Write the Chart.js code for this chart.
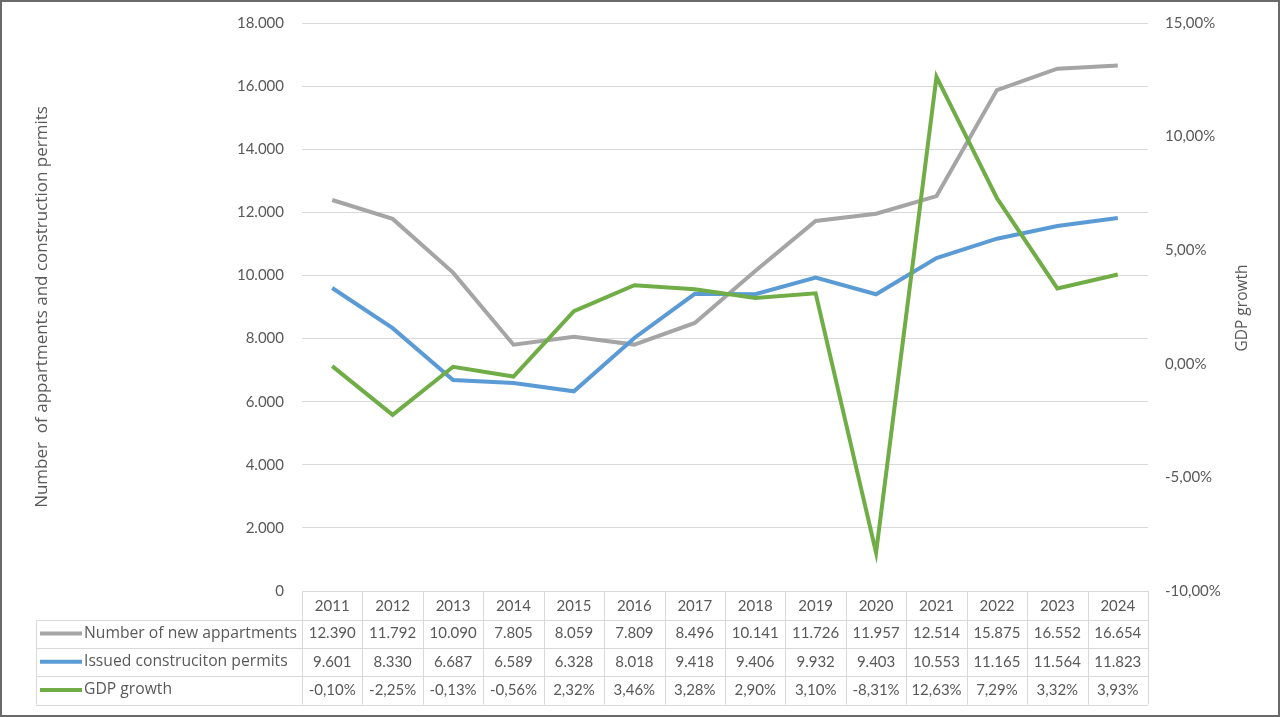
<!DOCTYPE html>
<html>
<head>
<meta charset="utf-8">
<script src="https://cdn.jsdelivr.net/npm/chart.js@4.4.1/dist/chart.umd.min.js"></script>
<style>
  html, body { margin: 0; padding: 0; background: #fff; }
  #wrap { width: 1280px; height: 717px; position: relative; }
  canvas { display: block; }
</style>
</head>
<body>
<div id="wrap"><canvas id="c" width="1280" height="717"></canvas></div>
<script>
const years = ['2011','2012','2013','2014','2015','2016','2017','2018','2019','2020','2021','2022','2023','2024'];
const newApartments = [12390, 11792, 10090, 7805, 8059, 7809, 8496, 10141, 11726, 11957, 12514, 15875, 16552, 16654];
const constructionPermits = [9601, 8330, 6687, 6589, 6328, 8018, 9418, 9406, 9932, 9403, 10553, 11165, 11564, 11823];
const gdpGrowth = [-0.10, -2.25, -0.13, -0.56, 2.32, 3.46, 3.28, 2.90, 3.10, -8.31, 12.63, 7.29, 3.32, 3.93];
const seriesNames = ['Number of new appartments', 'Issued construciton permits', 'GDP growth'];
const leftAxisTitle = 'Number  of appartments and construction permits';
const rightAxisTitle = 'GDP growth';

const FONT = 'Lato, "Open Sans", sans-serif';
const TFONT = '"Open Sans", Lato, sans-serif';
const TXT = '#595959';
const GRID = '#d9d9d9';
const colors = ['#a5a5a5', '#5b9bd5', '#70ad47'];

function fmtThousands(v) {
  const s = Math.round(v).toString();
  return s.replace(/\B(?=(\d{3})+(?!\d))/g, '.');
}
function fmtPct(v) {
  return v.toFixed(2).replace('.', ',') + '%';
}

const tablePlugin = {
  id: 'dataTable',
  beforeDraw(chart) {
    const ctx = chart.ctx;
    ctx.save();
    ctx.fillStyle = '#ffffff';
    ctx.fillRect(0, 0, chart.width, chart.height);
    ctx.restore();
  },
  afterDraw(chart) {
    const ctx = chart.ctx;
    const x = chart.scales.x;
    const area = chart.chartArea;
    const n = years.length;
    const colW = (area.right - area.left) / n;
    const top = area.bottom;
    const rowH = 28.2;
    const headerH = 29;
    const tableLeft = 36;
    const rowsTop = top + headerH;
    const tableBottom = rowsTop + rowH * 3;

    ctx.save();
    ctx.strokeStyle = GRID;
    ctx.lineWidth = 1;
    ctx.beginPath();
    ctx.moveTo(area.left, top + 0.5); ctx.lineTo(area.right, top + 0.5);
    for (let r = 0; r <= 3; r++) {
      const y = Math.round(rowsTop + r * rowH) + 0.5;
      ctx.moveTo(tableLeft, y); ctx.lineTo(area.right, y);
    }
    ctx.moveTo(tableLeft + 0.5, rowsTop); ctx.lineTo(tableLeft + 0.5, tableBottom);
    for (let i = 0; i <= n; i++) {
      const xx = Math.round(area.left + i * colW) + 0.5;
      ctx.moveTo(xx, top); ctx.lineTo(xx, tableBottom);
    }
    ctx.stroke();

    const rowsData = [
      newApartments.map(fmtThousands),
      constructionPermits.map(fmtThousands),
      gdpGrowth.map(fmtPct)
    ];
    ctx.textBaseline = 'middle';
    for (let r = 0; r < 3; r++) {
      const cy = rowsTop + r * rowH + rowH / 2 - 0.5;
      ctx.strokeStyle = colors[r];
      ctx.lineWidth = 4;
      ctx.beginPath();
      ctx.moveTo(40, cy); ctx.lineTo(82, cy);
      ctx.stroke();
      ctx.fillStyle = TXT;
      ctx.textAlign = 'left';
      ctx.font = '15.7px ' + TFONT;
      ctx.fillText(seriesNames[r], 84, cy);
      ctx.textAlign = 'center';
      ctx.font = '15px ' + FONT;
      for (let i = 0; i < n; i++) {
        ctx.fillText(rowsData[r][i], x.getPixelForValue(i), cy);
      }
    }

    ctx.save();
    ctx.translate(1243, 308);
    ctx.rotate(-Math.PI / 2);
    ctx.textAlign = 'center';
    ctx.textBaseline = 'middle';
    ctx.fillStyle = TXT;
    ctx.font = '15.5px ' + TFONT;
    ctx.fillText(rightAxisTitle, 0, 0);
    ctx.restore();

    ctx.strokeStyle = '#6a6a6a';
    ctx.lineWidth = 2;
    ctx.strokeRect(1, 1, chart.width - 2, chart.height - 2);
    ctx.restore();
  }
};

new Chart(document.getElementById('c'), {
  type: 'line',
  data: {
    labels: years,
    datasets: [
      { label: seriesNames[0], data: newApartments, borderColor: colors[0], yAxisID: 'y', borderWidth: 4, pointRadius: 0, tension: 0, order: 3 },
      { label: seriesNames[1], data: constructionPermits, borderColor: colors[1], yAxisID: 'y', borderWidth: 4, pointRadius: 0, tension: 0, order: 2 },
      { label: seriesNames[2], data: gdpGrowth, borderColor: colors[2], yAxisID: 'y2', borderWidth: 4, pointRadius: 0, tension: 0, order: 1 }
    ]
  },
  options: {
    responsive: false,
    animation: false,
    devicePixelRatio: 1,
    layout: { padding: { top: 23, left: 0, right: 0, bottom: 0 } },
    plugins: { legend: { display: false }, tooltip: { enabled: false }, title: { display: false } },
    scales: {
      x: {
        type: 'category',
        offset: true,
        grid: { display: false, drawTicks: false },
        border: { display: false },
        ticks: { color: TXT, font: { family: FONT, size: 15 }, padding: 6, maxRotation: 0, autoSkip: false },
        afterFit(s) { s.height = 126; }
      },
      y: {
        position: 'left',
        min: 0, max: 18000,
        grid: { color: GRID, drawTicks: true, tickLength: 18, tickColor: 'rgba(0,0,0,0)', lineWidth: 1 },
        border: { display: false },
        ticks: { stepSize: 2000, color: TXT, font: { family: FONT, size: 15 }, padding: 0, callback: v => fmtThousands(v) },
        title: { display: true, text: leftAxisTitle, color: TXT, font: { family: TFONT, size: 17 }, padding: { top: 32, bottom: 0 } },
        afterFit(s) { s.width = 302; }
      },
      y2: {
        position: 'right',
        min: -10, max: 15,
        grid: { display: true, drawOnChartArea: false, drawTicks: true, tickLength: 17, tickColor: 'rgba(0,0,0,0)', color: 'rgba(0,0,0,0)' },
        border: { display: false },
        ticks: { stepSize: 5, color: TXT, font: { family: FONT, size: 15 }, padding: 0, callback: v => fmtPct(v) },
        afterFit(s) { s.width = 132; }
      }
    }
  },
  plugins: [tablePlugin]
});
</script>
</body>
</html>
